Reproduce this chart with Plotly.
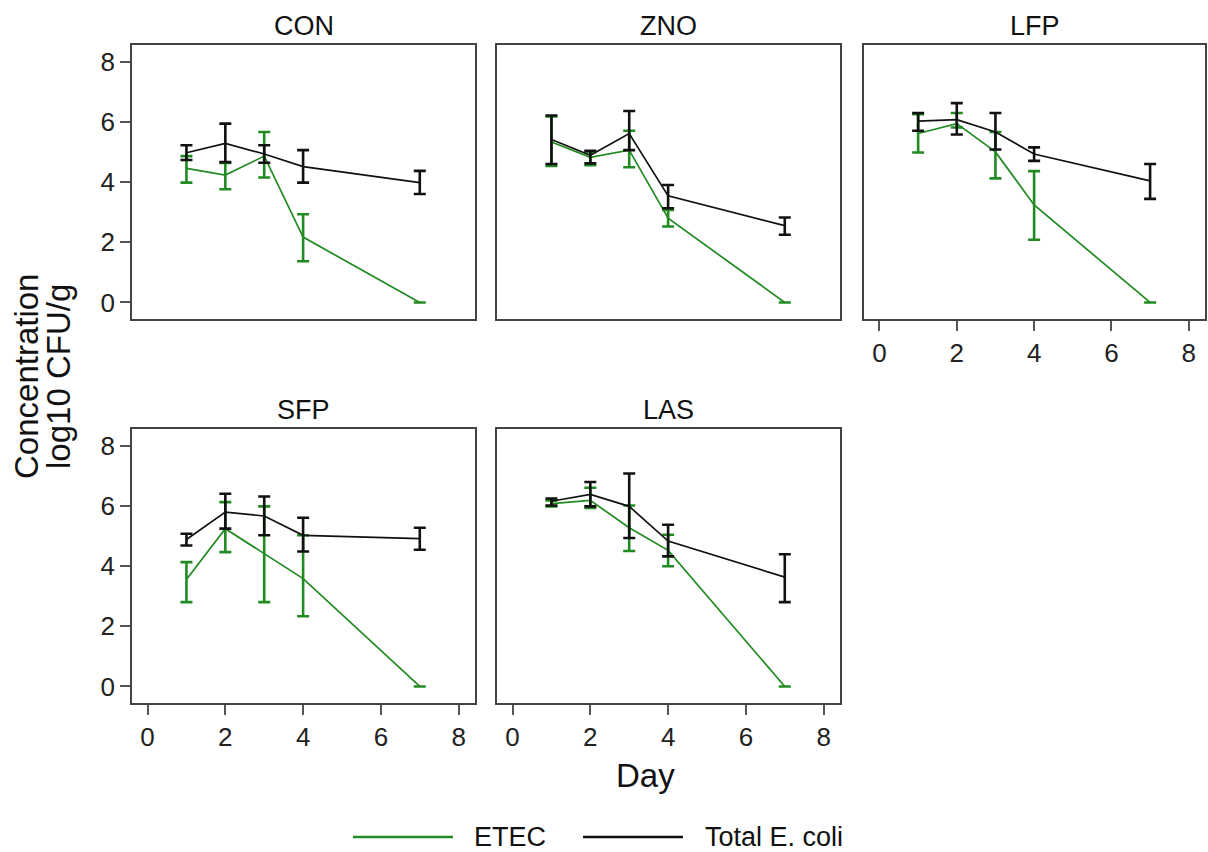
import plotly.graph_objects as go

W, H = 1208, 852

days = [1, 2, 3, 4, 7]
panels = ["CON", "ZNO", "LFP", "SFP", "LAS"]

etec_mean = {
    "CON": [4.45, 4.23, 4.86, 2.17, 0.0],
    "ZNO": [5.33, 4.82, 5.06, 2.80, 0.0],
    "LFP": [5.61, 5.94, 5.00, 3.24, 0.0],
    "SFP": [3.55, 5.24, 4.41, 3.58, 0.0],
    "LAS": [6.07, 6.18, 5.27, 4.52, 0.0],
}
etec_hi = {
    "CON": [4.86, 4.63, 5.66, 2.93, 0.0],
    "ZNO": [6.18, 5.00, 5.70, 3.07, 0.0],
    "LFP": [6.25, 6.29, 5.66, 4.36, 0.0],
    "SFP": [4.13, 6.12, 5.98, 5.02, 0.0],
    "LAS": [6.18, 6.60, 6.01, 5.04, 0.0],
}
etec_lo = {
    "CON": [3.98, 3.76, 4.15, 1.37, 0.0],
    "ZNO": [4.53, 4.56, 4.49, 2.52, 0.0],
    "LFP": [4.98, 5.81, 4.12, 2.08, 0.0],
    "SFP": [2.80, 4.46, 2.80, 2.33, 0.0],
    "LAS": [5.98, 5.93, 4.50, 3.99, 0.0],
}
total_mean = {
    "CON": [4.97, 5.28, 4.93, 4.51, 3.98],
    "ZNO": [5.41, 4.89, 5.61, 3.54, 2.55],
    "LFP": [6.02, 6.07, 5.66, 4.93, 4.04],
    "SFP": [4.88, 5.79, 5.66, 5.02, 4.91],
    "LAS": [6.15, 6.38, 5.98, 4.83, 3.63],
}
total_hi = {
    "CON": [5.22, 5.94, 5.22, 5.06, 4.37],
    "ZNO": [6.21, 5.04, 6.36, 3.90, 2.82],
    "LFP": [6.29, 6.62, 6.29, 5.15, 4.60],
    "SFP": [5.07, 6.40, 6.31, 5.60, 5.27],
    "LAS": [6.24, 6.79, 7.07, 5.37, 4.39],
}
total_lo = {
    "CON": [4.73, 4.66, 4.64, 3.98, 3.60],
    "ZNO": [4.60, 4.62, 5.06, 3.13, 2.25],
    "LFP": [5.70, 5.58, 5.08, 4.70, 3.44],
    "SFP": [4.68, 5.24, 5.02, 4.48, 4.54],
    "LAS": [6.01, 5.98, 4.93, 4.32, 2.80],
}

x_ticks = [0, 2, 4, 6, 8]
y_ticks = [0, 2, 4, 6, 8]
series_names = ["ETEC", "Total E. coli"]

GREEN = "#228a22"
BLACK = "#111111"
FONT = "Liberation Sans, Arial, sans-serif"

# panel boxes in pixels (left, right, top, bottom)
boxes = {
    "CON": (132, 475, 45, 319),
    "ZNO": (497, 840, 45, 319),
    "LFP": (864, 1205, 45, 319),
    "SFP": (132, 475, 429, 703),
    "LAS": (497, 840, 429, 703),
}
show_x = {"CON": False, "ZNO": False, "LFP": True, "SFP": True, "LAS": True}
show_y = {"CON": True, "ZNO": False, "LFP": False, "SFP": True, "LAS": False}

fig = go.Figure()
layout = {}
annotations = []

for i, p in enumerate(panels, start=1):
    xa = "x" if i == 1 else f"x{i}"
    ya = "y" if i == 1 else f"y{i}"
    series = [
        (series_names[0], etec_mean[p], etec_hi[p], etec_lo[p], GREEN),
        (series_names[1], total_mean[p], total_hi[p], total_lo[p], BLACK),
    ]
    for name, m, hi, lo, col in series:
        fig.add_trace(go.Scatter(
            x=days, y=m, mode="lines", name=name, showlegend=False,
            line=dict(color=col, width=1.7),
            error_y=dict(type="data", symmetric=False,
                         array=[h - v for h, v in zip(hi, m)],
                         arrayminus=[v - l for v, l in zip(m, lo)],
                         color=col, thickness=2.6, width=6),
            xaxis=xa, yaxis=ya,
        ))
    l, r, t, b = boxes[p]
    xkey = "xaxis" if i == 1 else f"xaxis{i}"
    ykey = "yaxis" if i == 1 else f"yaxis{i}"
    layout[xkey] = dict(
        domain=[l / W, r / W], anchor=ya, range=[-0.4, 8.42],
        showgrid=False, zeroline=False, showline=True, mirror=True,
        linecolor="#444444", linewidth=1.5,
        tickvals=x_ticks if show_x[p] else [], ticks="outside" if show_x[p] else "",
        ticklen=10, tickwidth=1.5, tickcolor="#555555",
        showticklabels=show_x[p],
        tickfont=dict(family=FONT, size=26, color="#222222"),
    )
    layout[ykey] = dict(
        domain=[1 - b / H, 1 - t / H], anchor=xa, range=[-0.55, 8.55],
        showgrid=False, zeroline=False, showline=True, mirror=True,
        linecolor="#444444", linewidth=1.5,
        tickvals=y_ticks if show_y[p] else [], ticks="outside" if show_y[p] else "",
        ticklen=10, tickwidth=1.5, tickcolor="#555555",
        showticklabels=show_y[p],
        tickfont=dict(family=FONT, size=26, color="#222222"),
    )
    annotations.append(dict(
        text=p, x=(l + r) / 2 / W, y=1 - (t - 19) / H, xref="paper", yref="paper",
        showarrow=False, xanchor="center", yanchor="middle",
        font=dict(family=FONT, size=27, color="#111111"),
    ))

# axis titles
annotations.append(dict(text="Concentration", x=26 / W, y=1 - 377 / H, xref="paper", yref="paper",
                        textangle=-90, showarrow=False, xanchor="center", yanchor="middle",
                        font=dict(family=FONT, size=33, color="#111111")))
annotations.append(dict(text="log10 CFU/g", x=58 / W, y=1 - 377 / H, xref="paper", yref="paper",
                        textangle=-90, showarrow=False, xanchor="center", yanchor="middle",
                        font=dict(family=FONT, size=33, color="#111111")))
annotations.append(dict(text="Day", x=645 / W, y=1 - 775 / H, xref="paper", yref="paper",
                        showarrow=False, xanchor="center", yanchor="middle",
                        font=dict(family=FONT, size=33, color="#111111")))

# legend (drawn manually to match the long legend keys)
shapes = []
legend_items = [(series_names[0], GREEN, 353, 453, 472), (series_names[1], BLACK, 583, 683, 703)]
for name, col, x0, x1, tx in legend_items:
    shapes.append(dict(type="line", xref="paper", yref="paper", x0=x0 / W, x1=x1 / W,
                       y0=1 - 837 / H, y1=1 - 837 / H, line=dict(color=col, width=2.4)))
    annotations.append(dict(text=name, x=tx / W, y=1 - 837 / H, xref="paper", yref="paper",
                            showarrow=False, xanchor="left", yanchor="middle",
                            font=dict(family=FONT, size=27, color="#111111")))

fig.update_layout(
    width=W, height=H, margin=dict(l=0, r=0, t=0, b=0),
    paper_bgcolor="white", plot_bgcolor="white",
    showlegend=False, annotations=annotations, shapes=shapes,
    **layout,
)

fig.write_html("out.html")
